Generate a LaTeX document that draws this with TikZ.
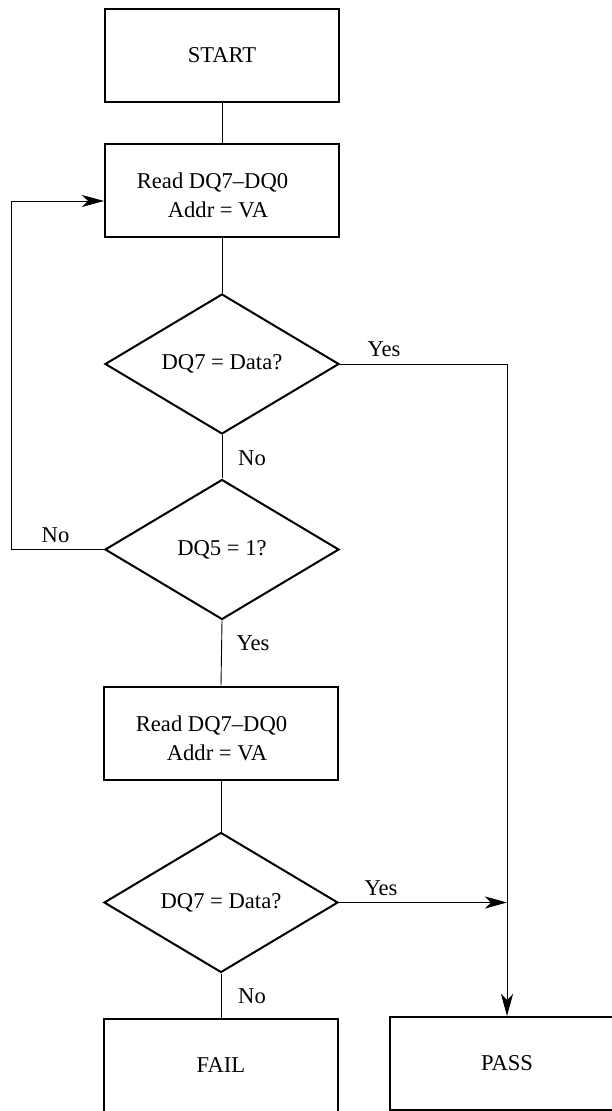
\documentclass[tikz,border=0pt]{standalone}
\usepackage{fontspec}
\setmainfont{Liberation Serif}
\usetikzlibrary{shapes.geometric,arrows.meta}

\begin{document}
\begin{tikzpicture}[
    x=0.5pt, y=-0.5pt,
    font=\fontsize{11.3}{14.5}\selectfont,
    stepbox/.style={%
        draw=black, line width=1pt, align=center,
        minimum width=117pt, minimum height=46.5pt, inner sep=0pt},
    readbox/.style={%
        stepbox, align=left, text height=27.2pt},
    decision/.style={%
        draw=black, line width=1pt, diamond, aspect=1.67,
        minimum width=117pt, minimum height=70pt, inner sep=0pt},
    flow/.style={line width=0.45pt},
    flowarrow/.style={flow, -{Stealth[length=11pt,width=6pt,inset=3pt]}},
]
    \useasboundingbox (0,0) rectangle (611,1111);
    %Steps
    \node[stepbox] (start) at (222,55.5) {START};
    \node[readbox] (read1) at (222,190.5)
        {Read DQ7–DQ0\hspace*{9.5pt}\\\hspace*{15.5pt}Addr = VA};
    \node[decision] (dq7a) at (222,364) {DQ7 = Data?};
    \node[decision] (dq5) at (222,549.5) {DQ5 = 1?};
    \node[readbox] (read2) at (221,733)
        {Read DQ7–DQ0\hspace*{9.5pt}\\\hspace*{15.5pt}Addr = VA};
    \node[decision] (dq7b) at (221,902.5) {DQ7 = Data?};
    \node[stepbox] (fail) at (221,1065.5) {FAIL};
    \node[stepbox] (pass) at (507,1063.5) {PASS};
    %Answers
    \node (yesa) at (384,349) {Yes};
    \node (noa) at (252,458) {No};
    \node (nob) at (55.5,535) {No};
    \node (yesb) at (253,643) {Yes};
    \node (yesc) at (381,888) {Yes};
    \node (noc) at (252,996) {No};
    %Connectors
    \draw[flow] (start) -- (read1);
    \draw[flow] (read1) -- (dq7a);
    \draw[flow] (dq7a) -- (dq5);
    \draw[flow] (dq5.south) -- (read2.north);
    \draw[flow] (read2) -- (dq7b);
    \draw[flow] (dq7b) -- (fail);
    \draw[flowarrow] (dq5.west) -- ++(-92.5,0) |- ([yshift=-5.25pt]read1.west);
    \draw[flowarrow] (dq7a.east) -| (pass.north);
    \draw[flowarrow] (dq7b.east) -- (dq7b.east -| pass.north);
\end{tikzpicture}
\end{document}
